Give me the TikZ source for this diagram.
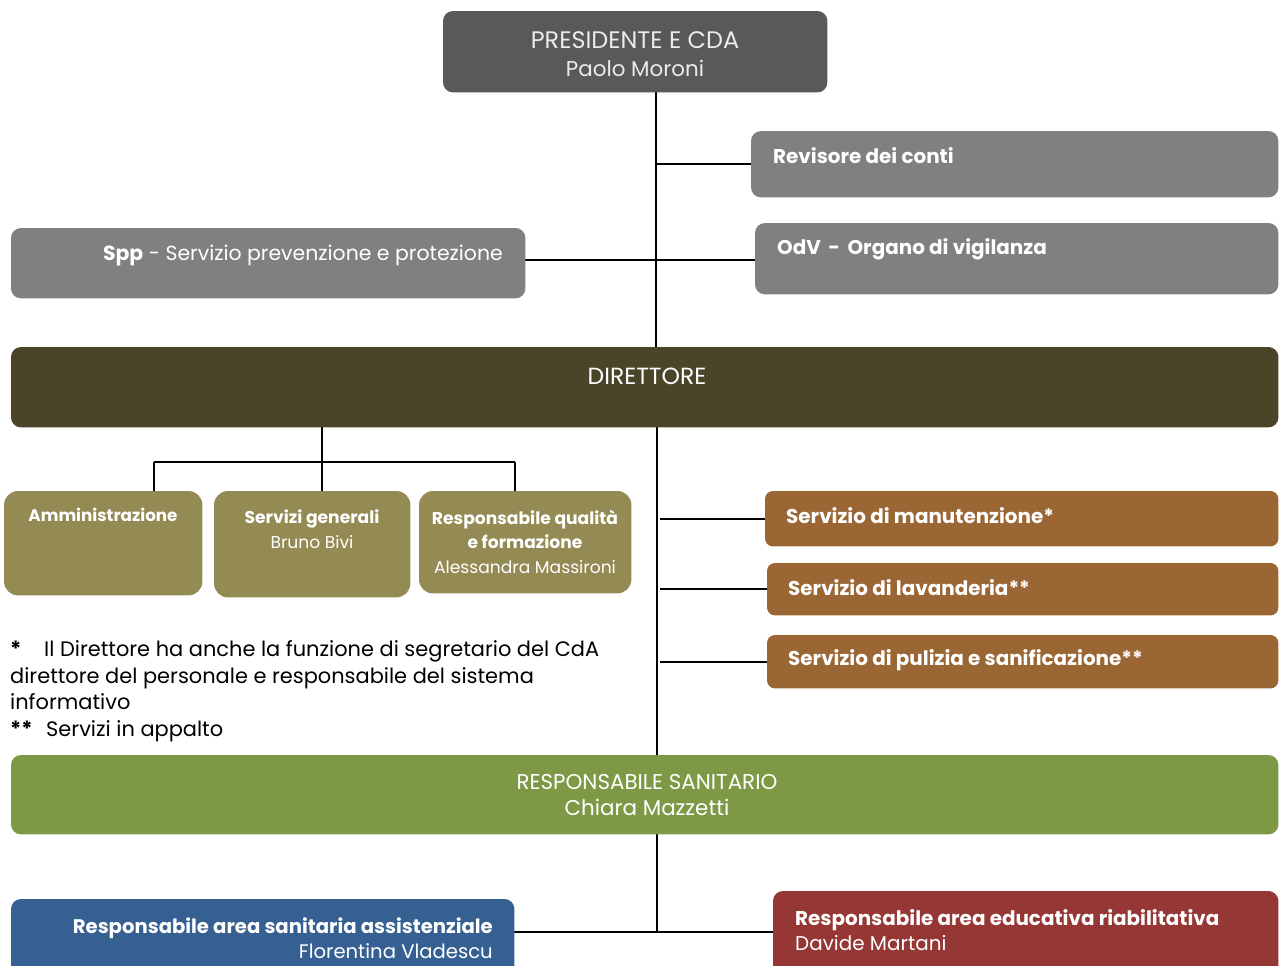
\documentclass[tikz,border=0pt]{standalone}
\usepackage{fontspec}
\setmainfont{Poppins}
\definecolor{presgray}{HTML}{595959}
\definecolor{boxgray}{HTML}{808080}
\definecolor{dirbrown}{HTML}{4A4429}
\definecolor{olivebox}{HTML}{948A54}
\definecolor{orangebox}{HTML}{9A6734}
\definecolor{greenbox}{HTML}{77933C}
\definecolor{bluebox}{HTML}{366092}
\definecolor{redbox}{HTML}{953735}
\begin{document}
\begin{tikzpicture}[x=1bp,y=-1bp,
  box/.style={draw=none, rounded corners=10bp, anchor=north west, inner sep=0pt},
  conn/.style={draw=black, line width=2.4bp},
  wt/.style={text=white, inner sep=0pt},
  med/.style={font=\bfseries\fontsize{20}{24}\selectfont},
  sml/.style={font=\fontsize{17.2}{24.5}\selectfont},
]
\useasboundingbox (0,0) rectangle (1279,966);

% helper coordinates
\coordinate (trunk) at (656,0);
\coordinate (trunkb) at (657,0);
\coordinate (ob) at (322,0);
\coordinate (ol) at (154,0);
\coordinate (or) at (515,0);
\coordinate (obar) at (0,462);
\coordinate (sppy) at (0,260);
\coordinate (boty) at (0,932);

% box frames (named nodes)
\node[box, minimum width=384bp, minimum height=81bp] (pres) at (443,11) {};
\node[box, minimum width=527bp, minimum height=66bp] (rev) at (751,131) {};
\node[box, minimum width=523bp, minimum height=71bp] (odv) at (755,223) {};
\node[box, minimum width=514bp, minimum height=70bp] (spp) at (11,228) {};
\node[box, minimum width=1267bp, minimum height=80bp] (dir) at (11,347) {};
\node[box, minimum width=198bp, minimum height=104bp] (amm) at (4,491) {};
\node[box, minimum width=196bp, minimum height=106bp] (sg) at (214,491) {};
\node[box, minimum width=212bp, minimum height=102bp] (rq) at (419,491) {};
\node[box, minimum width=513bp, minimum height=55bp] (man) at (765,491) {};
\node[box, minimum width=511bp, minimum height=52bp] (lav) at (767,563) {};
\node[box, minimum width=511bp, minimum height=53bp] (pul) at (767,635) {};
\node[box, minimum width=1267bp, minimum height=79bp] (rs) at (11,755) {};
\node[box, minimum width=503bp, minimum height=80bp] (ras) at (11,899) {};
\node[box, minimum width=505bp, minimum height=90bp] (rae) at (773,891) {};

% connectors (drawn first, boxes on top)
\draw[conn] (pres.south -| trunk) -- (dir.north -| trunk);
\draw[conn] (rev.west -| trunk) -- (rev.west);
\draw[conn] (spp.east |- sppy) -- (odv.west |- sppy);
\draw[conn] (dir.south -| ob) -- (obar -| ob);
\draw[conn] (obar -| ol) -- (obar -| or);
\draw[conn] (obar -| ol) -- (amm.north -| ol);
\draw[conn] (obar -| ob) -- (sg.north -| ob);
\draw[conn] (obar -| or) -- (rq.north -| or);
\draw[conn] (dir.south -| trunkb) -- (rs.north -| trunkb);
\draw[conn] (rs.south -| trunkb) -- (boty -| trunkb);
\draw[conn] ([xshift=3bp]man.west -| trunkb) -- (man.west);
\draw[conn] ([xshift=3bp]lav.west -| trunkb) -- ([xshift=10bp]lav.west);
\draw[conn] ([xshift=3bp]pul.west -| trunkb) -- (pul.west);
\draw[conn] (ras.east |- boty) -- (rae.west |- boty);

% filled boxes
\path[fill=presgray, rounded corners=10bp] (pres.north west) rectangle (pres.south east);
\path[fill=boxgray, rounded corners=10bp] (rev.north west) rectangle (rev.south east);
\path[fill=boxgray, rounded corners=10bp] (odv.north west) rectangle (odv.south east);
\path[fill=boxgray, rounded corners=10bp] (spp.north west) rectangle (spp.south east);
\path[fill=dirbrown, rounded corners=10bp] (dir.north west) rectangle (dir.south east);
\path[fill=olivebox, rounded corners=14bp] (amm.north west) rectangle (amm.south east);
\path[fill=olivebox, rounded corners=14bp] (sg.north west) rectangle (sg.south east);
\path[fill=olivebox, rounded corners=14bp] (rq.north west) rectangle (rq.south east);
\path[fill=orangebox, rounded corners=8bp] (man.north west) rectangle (man.south east);
\path[fill=orangebox, rounded corners=8bp] (lav.north west) rectangle (lav.south east);
\path[fill=orangebox, rounded corners=8bp] (pul.north west) rectangle (pul.south east);
\path[fill=greenbox, rounded corners=10bp, fill opacity=0.95] (rs.north west) rectangle (rs.south east);
\path[fill=bluebox, rounded corners=10bp] (ras.north west) rectangle (ras.south east);
\path[fill=redbox, rounded corners=10bp] (rae.north west) rectangle (rae.south east);

% texts
\node[wt, align=center, text=white!92!black, font=\fontsize{24}{28}\selectfont] (prest) at (635,54) {PRESIDENTE E CDA\\{\fontsize{21.5}{28}\selectfont Paolo Moroni}};
\node[wt, med, anchor=west] (revt) at (773,156) {Revisore dei conti};
\node[wt, med, anchor=west] (odvt) at (777,249) {OdV \,-\, Organo di vigilanza};
\node[wt, anchor=east, font=\fontsize{20.5}{26}\selectfont] (sppt) at (503,255) {\textbf{Spp} - Servizio prevenzione e protezione};
\node[wt, font=\fontsize{23.5}{28}\selectfont] (dirt) at (647,376) {DIRETTORE};
\node[wt, font=\bfseries\fontsize{16.8}{23}\selectfont] (ammt) at (103,515) {Amministrazione};
\node[wt, sml, align=center, anchor=north] (sgt) at (312,510) {\textbf{Servizi generali}\\Bruno Bivi};
\node[wt, sml, align=center, anchor=north] (rqt) at (525,510) {\textbf{Responsabile qualità}\\\textbf{e formazione}\\Alessandra Massironi};
\node[wt, med, anchor=west] (mant) at (786,516) {Servizio di manutenzione*};
\node[wt, med, anchor=west] (lavt) at (788,588) {Servizio di lavanderia**};
\node[wt, med, anchor=west] (pult) at (788,660) {Servizio di pulizia e sanificazione**};
\node[inner sep=0pt, anchor=north west, align=left, font=\fontsize{21}{27}\selectfont] (note) at (10,640)
  {\makebox[34bp][l]{\textbf{*}}Il Direttore ha anche la funzione di segretario del CdA\\
   direttore del personale e responsabile del sistema\\
   informativo\\
   \makebox[36bp][l]{\textbf{**}}Servizi in appalto};
\node[wt, align=center, font=\fontsize{21.5}{27}\selectfont] (rst) at (647,795) {RESPONSABILE SANITARIO\\Chiara Mazzetti};
\node[wt, anchor=east, align=right, font=\fontsize{19.7}{25}\selectfont] (rast) at (493,938) {\textbf{Responsabile area sanitaria assistenziale}\\Florentina Vladescu};
\node[wt, anchor=west, align=left, font=\fontsize{20}{25}\selectfont] (raet) at (795,930) {\textbf{Responsabile area educativa riabilitativa}\\Davide Martani};
\end{tikzpicture}
\end{document}
